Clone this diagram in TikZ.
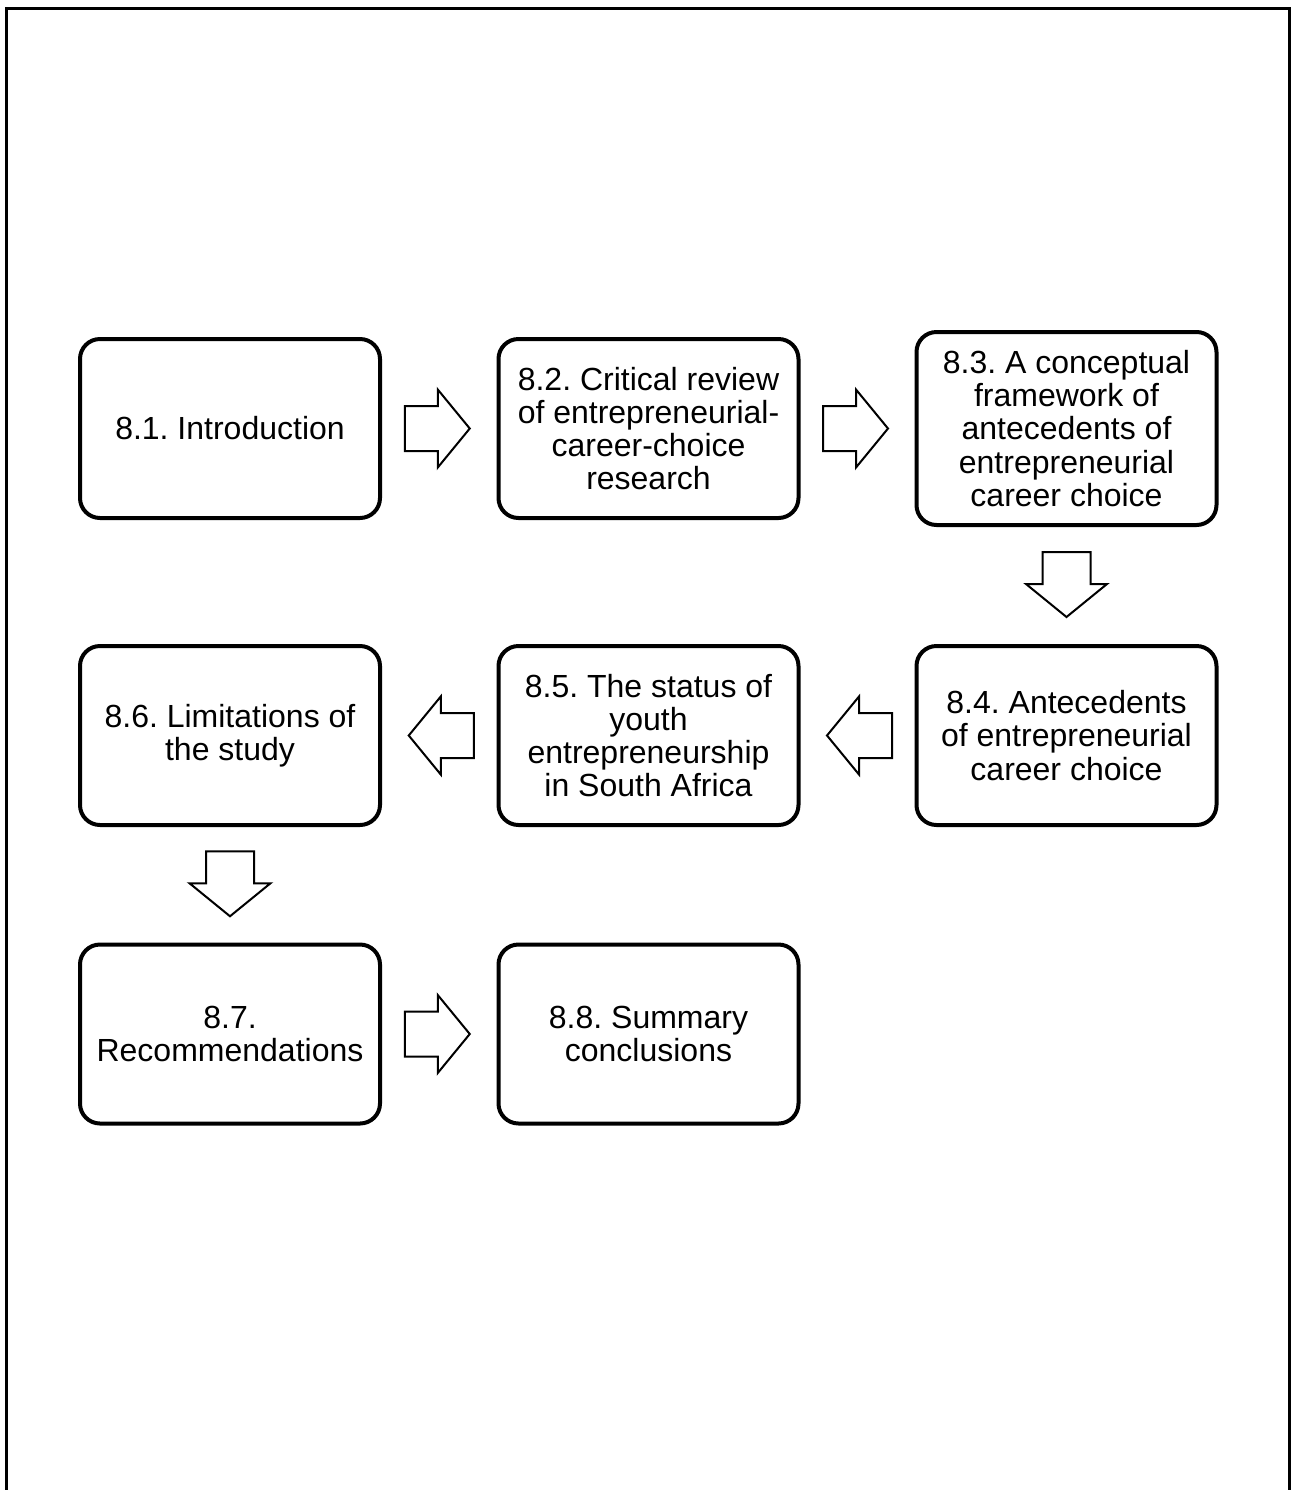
\documentclass[tikz,border=0pt]{standalone}
\usepackage{fontspec}
\setmainfont{Liberation Sans}
\usetikzlibrary{calc}
\frenchspacing
\tikzset{
  box/.style={draw=black, line width=2pt, rounded corners=10pt, fill=white,
    minimum width=150pt, minimum height=89.5pt, inner sep=0pt, align=center,
    font=\fontsize{16pt}{16.6pt}\selectfont\frenchspacing},
  blk/.style={draw=black, line width=1pt, fill=white, line join=miter},
  rarr/.pic={\path[blk] (-34.5,-22.5) -- (-1.5,-22.5) -- (-1.5,-39) -- (30.5,0) -- (-1.5,39) -- (-1.5,22.5) -- (-34.5,22.5) -- cycle;},
  larr/.pic={\path[blk] (34.5,-22.5) -- (1.5,-22.5) -- (1.5,-39) -- (-30.5,0) -- (1.5,39) -- (1.5,22.5) -- (34.5,22.5) -- cycle;},
  darr/.pic={\path[blk] (-24,-33.5) -- (-24,-1.5) -- (-40.5,-1.5) -- (0,31.5) -- (40.5,-1.5) -- (24,-1.5) -- (24,-33.5) -- cycle;}
}
\begin{document}
\begin{tikzpicture}[x=0.5pt,y=-0.5pt]
\useasboundingbox (0,0) rectangle (1291,1490);
\draw[line width=1.5pt] (6,1500) -- (6,8) -- (1289.5,8) -- (1289.5,1500);

\node[box] (b1) at (230,428.5) {8.1. Introduction};
\node[box] (b2) at (648.5,428.5) {8.2. Critical review\\of entrepreneurial-\\career-choice\\research};
\node[box, minimum height=96.5pt] (b3) at (1066.5,428.5) {8.3. A conceptual\\framework of\\antecedents of\\entrepreneurial\\career choice};
\node[box] (b4) at (1066.5,735.5) {8.4. Antecedents\\of entrepreneurial\\career choice};
\node[box] (b5) at (648.5,735.5) {8.5. The status of\\youth\\entrepreneurship\\in South Africa};
\node[box] (b6) at (230,735.5) {8.6. Limitations of\\the study};
\node[box] (b7) at (230,1034) {8.7.\\Recommendations};
\node[box] (b8) at (648.5,1034) {8.8. Summary\\conclusions};

\coordinate (a12) at ($(b1.east)!0.5!(b2.west)$);
\coordinate (a23) at ($(b2.east)!0.5!(b3.west)$);
\coordinate (a34) at ($(b3.south)!0.5!(b4.north)$);
\coordinate (a45) at ($(b4.west)!0.5!(b5.east)$);
\coordinate (a56) at ($(b5.west)!0.5!(b6.east)$);
\coordinate (a67) at ($(b6.south)!0.5!(b7.north)$);
\coordinate (a78) at ($(b7.east)!0.5!(b8.west)$);

\pic at (a12) {rarr};
\pic at (a23) {rarr};
\pic at (a34) {darr};
\pic at (a45) {larr};
\pic at (a56) {larr};
\pic at (a67) {darr};
\pic at (a78) {rarr};
\end{tikzpicture}
\end{document}
